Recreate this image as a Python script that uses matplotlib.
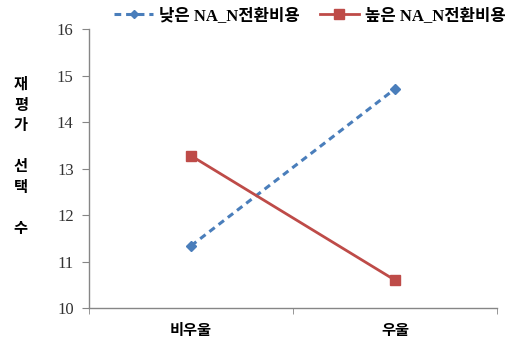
import matplotlib.pyplot as plt
from matplotlib.lines import Line2D

# Mean re-evaluation choices by depression group
groups = ['비우울', '우울']
low_ratio = [11.34, 14.72]
high_ratio = [13.28, 10.60]
series_names = ['낮은 NA_N전환비용', '높은 NA_N전환비용']
y_ticks = [10, 11, 12, 13, 14, 15, 16]

BLUE = '#4a7ebb'
RED = '#be4b48'
AXIS_GRAY = '#868686'
SERIF = ['Liberation Serif', 'Noto Sans CJK KR']

fig = plt.figure(figsize=(5.21, 3.39), dpi=100, facecolor='white')
ax = fig.add_axes([0.1708, 0.0914, 0.7832, 0.8216])

x = range(len(groups))
ax.plot(x, low_ratio, color=BLUE, lw=2.2, ls=(0, (2.2, 1.6)),
        marker='D', ms=5, mfc=BLUE, mec=BLUE)
ax.plot(x, high_ratio, color=RED, lw=2.0, ls='-',
        marker='s', ms=7, mfc=RED, mec=RED)

ax.set_xlim(-0.5, 1.5)
ax.set_ylim(10, 16)
ax.set_yticks(y_ticks)
ax.set_yticklabels([str(v) for v in y_ticks], family=SERIF, fontsize=12,
                   color='#333333')
ax.set_xticks(list(x))
ax.set_xticklabels(groups, family='Noto Sans CJK KR', fontweight='bold',
                   fontsize=11)
ax.set_xticks([-0.5, 0.5, 1.5], minor=True)

for side in ['top', 'right']:
    ax.spines[side].set_visible(False)
for side in ['left', 'bottom']:
    ax.spines[side].set_color(AXIS_GRAY)
    ax.spines[side].set_linewidth(1.0)

ax.tick_params(axis='y', length=5, color=AXIS_GRAY, pad=6)
ax.tick_params(axis='x', which='major', length=0, pad=10)
ax.tick_params(axis='x', which='minor', length=4, color=AXIS_GRAY)

# stacked vertical axis title
fig.text(0.04, 0.54, '재\n평\n가\n\n선\n택\n\n수', ha='center', va='center',
         family='Noto Sans CJK KR', fontweight='bold', fontsize=11,
         linespacing=1.35)

handles = [
    Line2D([], [], color=BLUE, lw=2.2, ls=(0, (2.2, 1.6)), marker='D', ms=4.5),
    Line2D([], [], color=RED, lw=2.0, marker='s', ms=7),
]
leg = fig.legend(handles, series_names, loc='upper right',
                 bbox_to_anchor=(1.0, 1.02), ncol=2, frameon=False,
                 handlelength=2.3, handletextpad=0.4, columnspacing=1.2,
                 prop={'family': SERIF, 'weight': 'bold', 'size': 12})

fig.savefig('out.png', dpi=100, facecolor='white')
